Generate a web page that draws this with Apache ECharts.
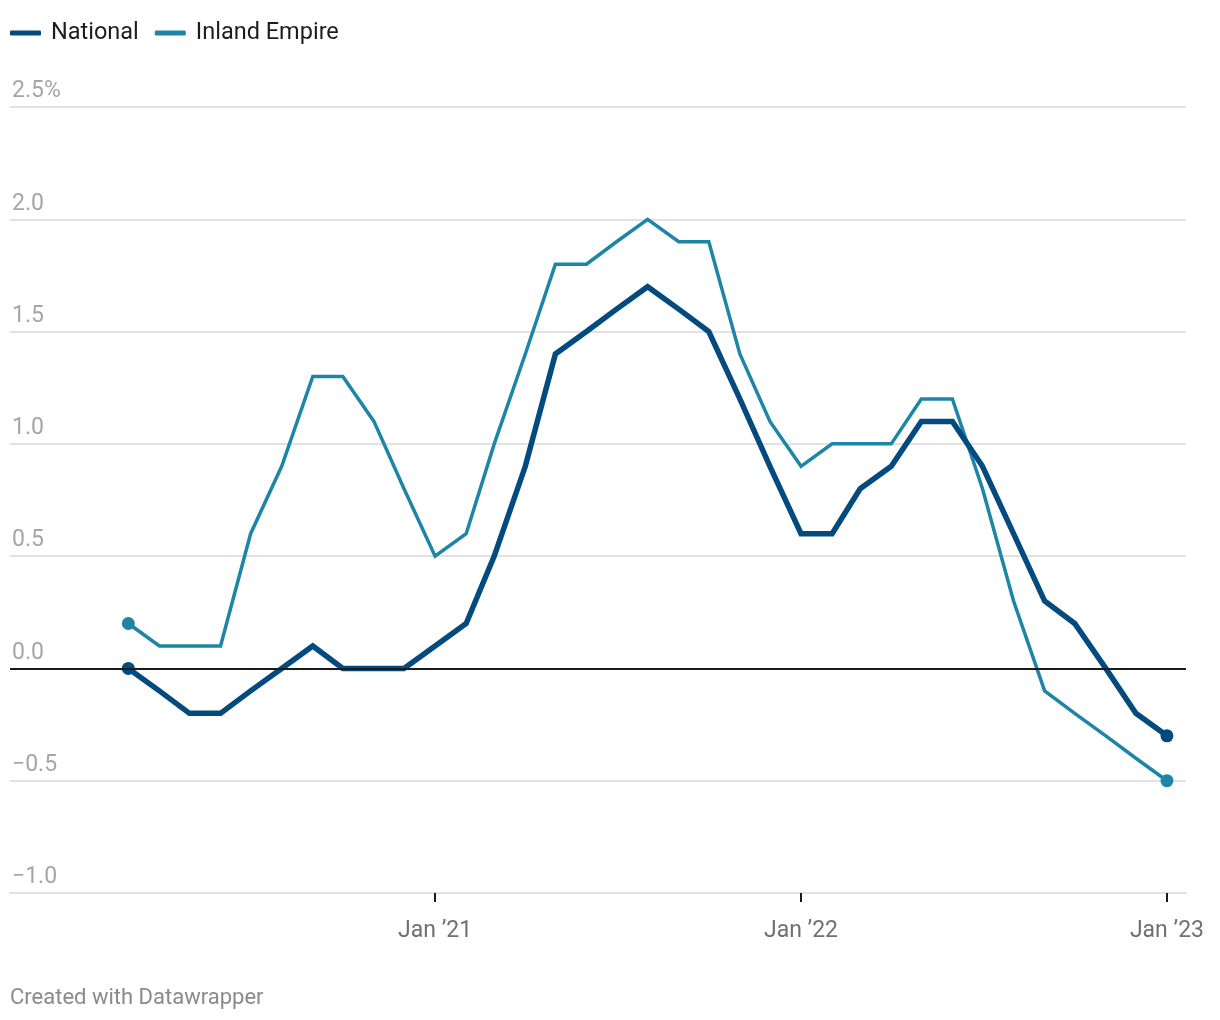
<!DOCTYPE html>
<html>
<head>
<meta charset="utf-8">
<script src="https://cdn.jsdelivr.net/npm/echarts@6/dist/echarts.min.js"></script>
<style>
html,body{margin:0;padding:0;background:#fff;}
#chart{width:1220px;height:1020px;}
</style>
</head>
<body>
<div id="chart"></div>
<script>
const months = [
  '2020-03-01','2020-04-01','2020-05-01','2020-06-01','2020-07-01','2020-08-01','2020-09-01','2020-10-01','2020-11-01','2020-12-01',
  '2021-01-01','2021-02-01','2021-03-01','2021-04-01','2021-05-01','2021-06-01','2021-07-01','2021-08-01','2021-09-01','2021-10-01','2021-11-01','2021-12-01',
  '2022-01-01','2022-02-01','2022-03-01','2022-04-01','2022-05-01','2022-06-01','2022-07-01','2022-08-01','2022-09-01','2022-10-01','2022-11-01','2022-12-01',
  '2023-01-01'
];
const national = [
  0.0, -0.1, -0.2, -0.2, -0.1, 0.0, 0.1, 0.0, 0.0, 0.0,
  0.1, 0.2, 0.5, 0.9, 1.4, 1.5, 1.6, 1.7, 1.6, 1.5, 1.2, 0.9,
  0.6, 0.6, 0.8, 0.9, 1.1, 1.1, 0.9, 0.6, 0.3, 0.2, 0.0, -0.2,
  -0.3
];
const inlandEmpire = [
  0.2, 0.1, 0.1, 0.1, 0.6, 0.9, 1.3, 1.3, 1.1, 0.8,
  0.5, 0.6, 1.0, 1.4, 1.8, 1.8, 1.9, 2.0, 1.9, 1.9, 1.4, 1.1,
  0.9, 1.0, 1.0, 1.0, 1.2, 1.2, 0.8, 0.3, -0.1, -0.2, -0.3, -0.4,
  -0.5
];
const xTickDates = ['2021-01-01', '2022-01-01', '2023-01-01'];
const xTickLabels = ['Jan ’21', 'Jan ’22', 'Jan ’23'];
const yTicks = [-1.0, -0.5, 0.0, 0.5, 1.0, 1.5, 2.0, 2.5];
const yTickLabels = ['−1.0', '−0.5', '0.0', '0.5', '1.0', '1.5', '2.0', '2.5%'];

const FONT = 'Roboto, "Noto Sans", sans-serif';

function toTs(s) {
  const p = s.split('-').map(Number);
  return Date.UTC(p[0], p[1] - 1, p[2]);
}
function buildData(vals, size) {
  return vals.map((v, i) => {
    const item = { value: [toTs(months[i]), v] };
    if (i === 0 || i === vals.length - 1) {
      item.symbol = 'circle';
      item.symbolSize = size;
    }
    return item;
  });
}
const xTickTs = xTickDates.map(toTs);

const chart = echarts.init(document.getElementById('chart'), null, { renderer: 'canvas' });
chart.setOption({
  animation: false,
  backgroundColor: '#ffffff',
  textStyle: { fontFamily: FONT },
  legend: {
    data: ['National', 'Inland Empire'],
    left: 10,
    top: 21,
    padding: 0,
    icon: 'roundRect',
    itemWidth: 31,
    itemHeight: 5,
    itemGap: 16,
    selectedMode: false,
    textStyle: { fontFamily: FONT, fontSize: 23.5, color: '#1d1d1d', padding: [0, 0, 0, 5] }
  },
  grid: { left: 10, right: 34, top: 107, bottom: 127, containLabel: false },
  xAxis: {
    type: 'value',
    min: toTs('2019-11-04'),
    max: toTs('2023-01-20'),
    splitLine: { show: false },
    axisLine: { show: true, onZero: false, lineStyle: { color: '#e2e2e2', width: 2 } },
    axisTick: {
      show: true,
      customValues: xTickTs,
      length: 9,
      lineStyle: { color: '#1a1a1a', width: 2 }
    },
    axisLabel: {
      customValues: xTickTs,
      formatter: function (val) {
        const idx = xTickTs.indexOf(val);
        return idx >= 0 ? xTickLabels[idx] : '';
      },
      fontFamily: FONT,
      fontSize: 23,
      color: '#707070',
      margin: 27
    }
  },
  yAxis: {
    type: 'value',
    min: -1.0,
    max: 2.5,
    interval: 0.5,
    axisLine: { show: false },
    axisTick: { show: false },
    splitLine: { show: true, lineStyle: { color: '#e2e2e2', width: 2 } },
    axisLabel: {
      inside: true,
      margin: 2,
      align: 'left',
      verticalAlign: 'bottom',
      padding: [0, 0, 4, 0],
      fontFamily: FONT,
      fontSize: 23,
      color: '#a6a6a6',
      formatter: function (val) {
        const idx = yTicks.findIndex(t => Math.abs(t - val) < 1e-9);
        return idx >= 0 ? yTickLabels[idx] : '';
      }
    }
  },
  series: [
    {
      name: 'zero',
      type: 'line',
      data: [],
      z: 1,
      silent: true,
      markLine: {
        silent: true,
        symbol: 'none',
        label: { show: false },
        lineStyle: { color: '#1a1a1a', width: 2, type: 'solid' },
        data: [{ yAxis: 0 }]
      }
    },
    {
      name: 'Inland Empire',
      type: 'line',
      z: 2,
      data: buildData(inlandEmpire, 13),
      symbol: 'none',
      showSymbol: true,
      color: '#1d86a6',
      lineStyle: { color: '#1d86a6', width: 3.5, join: 'miter' },
      itemStyle: { color: '#1d86a6' },
      emphasis: { disabled: true }
    },
    {
      name: 'National',
      type: 'line',
      z: 3,
      data: buildData(national, 13),
      symbol: 'none',
      showSymbol: true,
      color: '#034a7e',
      lineStyle: { color: '#034a7e', width: 5.5, join: 'miter' },
      itemStyle: { color: '#034a7e' },
      emphasis: { disabled: true }
    }
  ],
  graphic: [
    {
      type: 'text',
      left: 10,
      top: 987,
      style: {
        text: 'Created with Datawrapper',
        fontFamily: FONT,
        fontSize: 22,
        fill: '#8a8a8a'
      }
    }
  ]
});
</script>
</body>
</html>
